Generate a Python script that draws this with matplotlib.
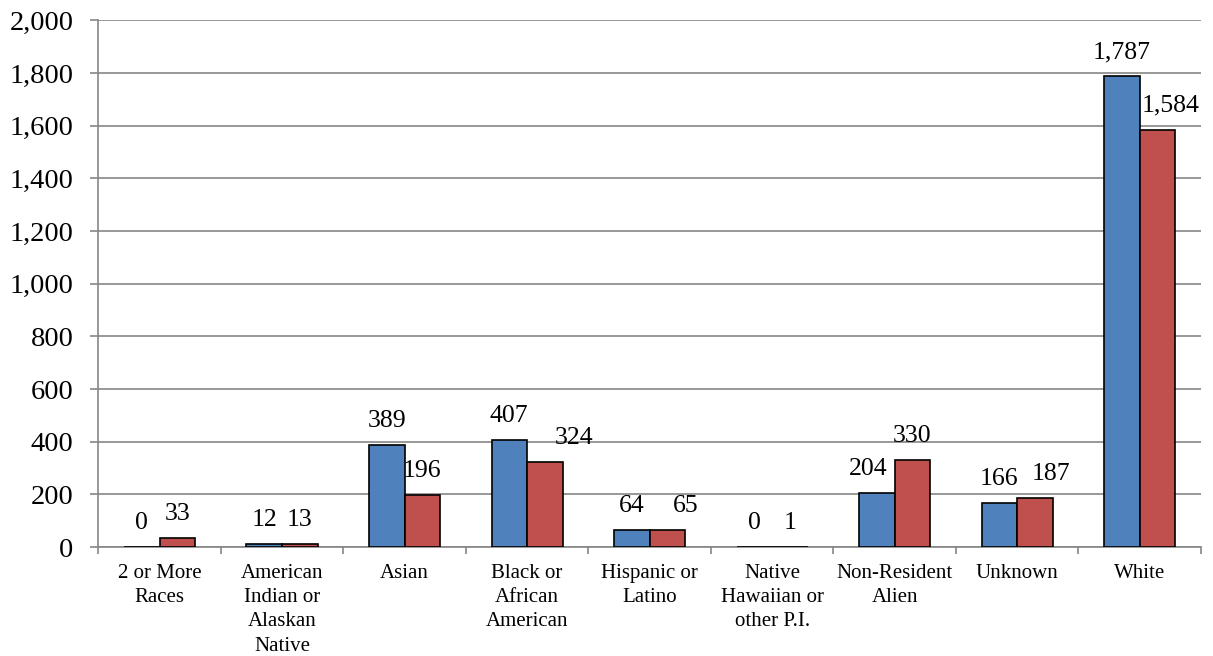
import matplotlib.pyplot as plt
import numpy as np

# Data
categories = ["2 or More\nRaces", "American\nIndian or\nAlaskan\nNative", "Asian",
              "Black or\nAfrican\nAmerican", "Hispanic or\nLatino",
              "Native\nHawaiian or\nother P.I.", "Non-Resident\nAlien", "Unknown", "White"]
series_a = [0, 12, 389, 407, 64, 0, 204, 166, 1787]
series_b = [33, 13, 196, 324, 65, 1, 330, 187, 1584]
yticks = list(range(0, 2001, 200))

# horizontal nudges (points) of the value labels, as placed in the original
nudge_a = [0, 0, 0, 0, 0, 0, -6, 0, 0]
nudge_b = [0, 0, 0, 21, 13, 0, 0, 11.5, 9.5]

plt.rcParams['font.family'] = ['Liberation Serif', 'DejaVu Serif']

fig = plt.figure(figsize=(12.13, 6.56), dpi=100)
ax = fig.add_axes([0.081, 0.166, 0.909, 0.803])

x = np.arange(len(categories))
w = 0.29
bars_a = ax.bar(x - w / 2, series_a, w, color="#4F81BD", edgecolor="black", linewidth=1.2, zorder=3)
bars_b = ax.bar(x + w / 2, series_b, w, color="#C0504D", edgecolor="black", linewidth=1.2, zorder=3)

for bars, vals, nudges in [(bars_a, series_a, nudge_a), (bars_b, series_b, nudge_b)]:
    for b, v, dx in zip(bars, vals, nudges):
        ax.annotate(f"{v:,}", (b.get_x() + b.get_width() / 2, v),
                    xytext=(dx, 13), textcoords="offset points",
                    ha="center", va="baseline", fontsize=18.5, zorder=4)

ax.set_xlim(-0.5, len(categories) - 0.5)
ax.set_ylim(0, 2000)
ax.set_yticks(yticks)
ax.set_yticklabels([f"{t:,}" for t in yticks], fontsize=20.5)
ax.yaxis.grid(True, color="#868686", linewidth=1.2, zorder=0)
ax.tick_params(axis="y", length=6, width=1.2, color="#868686", pad=12)

ax.set_xticks(x)
ax.set_xticklabels(categories, fontsize=15, va="top", linespacing=1.38)
ax.tick_params(axis="x", length=0, pad=12)
ax.set_xticks(np.arange(-0.5, len(categories), 1), minor=True)
ax.tick_params(axis="x", which="minor", length=5, width=1.2, color="#868686")

for s in ["top", "right"]:
    ax.spines[s].set_visible(False)
for s in ["left", "bottom"]:
    ax.spines[s].set_color("#868686")
    ax.spines[s].set_linewidth(1.2)

fig.savefig("out.png", dpi=100)
